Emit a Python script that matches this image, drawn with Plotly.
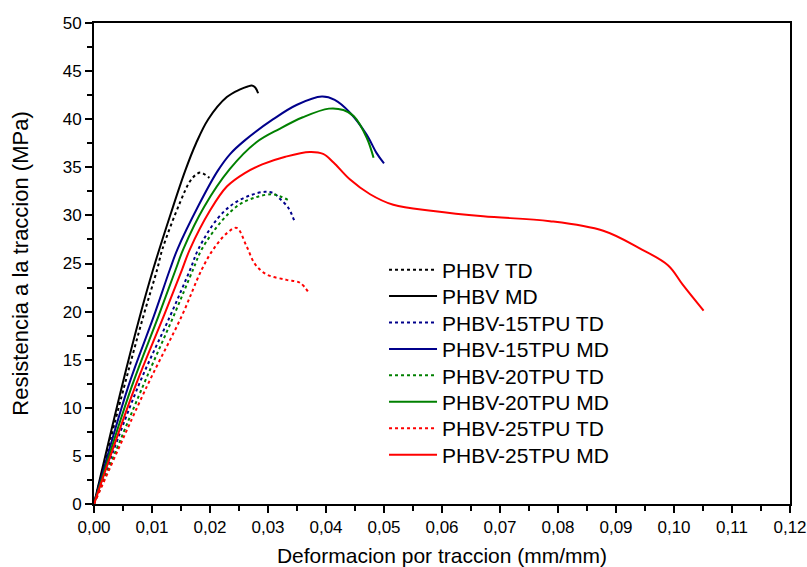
import plotly.graph_objects as go

# PHBV TD (black dotted)
phbv_td_x = [0, 0.0052, 0.0085, 0.0109, 0.0118, 0.0148, 0.0165, 0.0175, 0.0183, 0.0190, 0.0199]
phbv_td_y = [0, 12.2, 19.5, 24.4, 26.5, 31.3, 33.5, 34.2, 34.45, 34.3, 33.9]
# PHBV MD (black solid)
phbv_md_x = [0, 0.0048, 0.0079, 0.0102, 0.0133, 0.0157, 0.0176, 0.0197, 0.0229, 0.0252, 0.0265, 0.0272, 0.0278, 0.0283]
phbv_md_y = [0, 12.2, 19.5, 24.4, 30.3, 34.6, 37.5, 40.0, 42.3, 43.1, 43.4, 43.5, 43.3, 42.7]
# PHBV-15TPU TD (blue dotted)
t15_td_x = [0, 0.0076, 0.0131, 0.0166, 0.0180, 0.0212, 0.0240, 0.0270, 0.0295, 0.0310, 0.0321, 0.0335, 0.0345]
t15_td_y = [0, 12.2, 19.5, 24.4, 26.5, 29.6, 31.2, 32.1, 32.45, 32.3, 31.7, 30.8, 29.5]
# PHBV-15TPU MD (blue solid)
t15_md_x = [0, 0.0059, 0.0103, 0.0131, 0.0144, 0.0180, 0.0213, 0.0235, 0.0260, 0.0309, 0.0350, 0.0393, 0.0415, 0.0441, 0.0470, 0.0487, 0.0500]
t15_md_y = [0, 12.2, 19.5, 24.4, 26.5, 31.0, 34.6, 36.4, 37.8, 40.0, 41.5, 42.35, 42.0, 40.7, 38.4, 36.5, 35.4]
# PHBV-20TPU TD (green dotted)
t20_td_x = [0, 0.0084, 0.0137, 0.0171, 0.0186, 0.0220, 0.0250, 0.0280, 0.0306, 0.0320, 0.0338]
t20_td_y = [0, 12.2, 19.5, 24.4, 26.5, 29.4, 31.1, 31.9, 32.2, 32.0, 31.5]
# PHBV-20TPU MD (green solid)
t20_md_x = [0, 0.0065, 0.0111, 0.0141, 0.0154, 0.0190, 0.0234, 0.0280, 0.0320, 0.0360, 0.0405, 0.0430, 0.0448, 0.0470, 0.0482]
t20_md_y = [0, 12.2, 19.5, 24.4, 26.5, 30.9, 34.8, 37.6, 39.0, 40.2, 41.1, 40.95, 40.3, 38.1, 36.0]
# PHBV-25TPU TD (red dotted)
t25_td_x = [0, 0.0091, 0.0151, 0.0186, 0.0206, 0.0230, 0.0246, 0.0263, 0.0278, 0.0298, 0.0332, 0.0355, 0.0371]
t25_td_y = [0, 12.2, 19.5, 24.4, 26.5, 28.2, 28.7, 26.8, 24.9, 23.85, 23.3, 23.0, 21.9]
# PHBV-25TPU MD (red solid)
t25_md_x = [0, 0.0071, 0.0120, 0.0152, 0.01655, 0.0200, 0.0229, 0.0260, 0.0290, 0.0330, 0.0372, 0.0395, 0.0413, 0.0441, 0.0476,
            0.0516, 0.0585, 0.0671, 0.0786, 0.0878, 0.0940, 0.0990, 0.1015, 0.1051]
t25_md_y = [0, 12.2, 19.5, 24.4, 26.5, 30.5, 33.0, 34.4, 35.3, 36.1, 36.6, 36.4, 35.5, 33.75, 32.2,
            31.1, 30.45, 29.9, 29.4, 28.4, 26.6, 24.8, 22.8, 20.1]

series = [
    ("PHBV TD", phbv_td_x, phbv_td_y, "#000000", "dot"),
    ("PHBV MD", phbv_md_x, phbv_md_y, "#000000", "solid"),
    ("PHBV-15TPU TD", t15_td_x, t15_td_y, "#00008B", "dot"),
    ("PHBV-15TPU MD", t15_md_x, t15_md_y, "#00008B", "solid"),
    ("PHBV-20TPU TD", t20_td_x, t20_td_y, "#008000", "dot"),
    ("PHBV-20TPU MD", t20_md_x, t20_md_y, "#008000", "solid"),
    ("PHBV-25TPU TD", t25_td_x, t25_td_y, "#FF0000", "dot"),
    ("PHBV-25TPU MD", t25_md_x, t25_md_y, "#FF0000", "solid"),
]

font_family = "Liberation Sans, Arial, sans-serif"

PLOT_TOP, PLOT_BOTTOM = 23, 504
row_centers = [270 + 26.43 * i for i in range(len(series))]

fig = go.Figure()
layout_legends = {}
for i, (name, xs, ys, col, dash) in enumerate(series):
    key = "legend" if i == 0 else f"legend{i + 1}"
    fig.add_trace(go.Scatter(
        x=xs, y=ys, mode="lines", name=name, legend=key,
        line=dict(color=col, width=2, dash=dash, shape="spline", smoothing=1.0),
    ))
    layout_legends[key] = dict(
        x=0.4167, y=(PLOT_BOTTOM - row_centers[i]) / (PLOT_BOTTOM - PLOT_TOP),
        xanchor="left", yanchor="middle",
        bgcolor="rgba(0,0,0,0)", font=dict(size=21, family=font_family),
        itemwidth=48, borderwidth=0,
    )

fig.update_layout(
    width=807, height=567,
    margin=dict(l=94, r=17, t=23, b=63),
    paper_bgcolor="white", plot_bgcolor="white",
    separators=",.",
    font=dict(family=font_family, size=16, color="#000000"),
    showlegend=True,
    xaxis=dict(
        range=[0, 0.12], tickvals=[i * 0.01 for i in range(13)], tickformat=".2f",
        showgrid=False, zeroline=False, showline=True, linecolor="black", linewidth=2,
        mirror=True, ticks="outside", ticklen=7, tickwidth=1.5, tickcolor="black",
        minor=dict(tickvals=[0.005 + i * 0.01 for i in range(12)], ticks="outside", ticklen=5, tickwidth=1.5, tickcolor="black"),
        title=dict(text="Deformacion por traccion (mm/mm)", font=dict(size=21), standoff=14),
        tickfont=dict(size=17), automargin=False,
    ),
    yaxis=dict(
        range=[0, 50], tickvals=list(range(0, 51, 5)),
        showgrid=False, zeroline=False, showline=True, linecolor="black", linewidth=2,
        mirror=True, ticks="outside", ticklen=7, tickwidth=1.5, tickcolor="black",
        minor=dict(tickvals=[2.5 + 5 * i for i in range(10)], ticks="outside", ticklen=5, tickwidth=1.5, tickcolor="black"),
        title=dict(text="Resistencia a la traccion (MPa)", font=dict(size=22), standoff=28),
        tickfont=dict(size=17), automargin=False,
    ),
    **layout_legends,
)

fig.write_html(
    "out.html",
    config={"displayModeBar": False},
    post_script="document.body.style.margin='0';document.documentElement.style.overflow='hidden';",
)
